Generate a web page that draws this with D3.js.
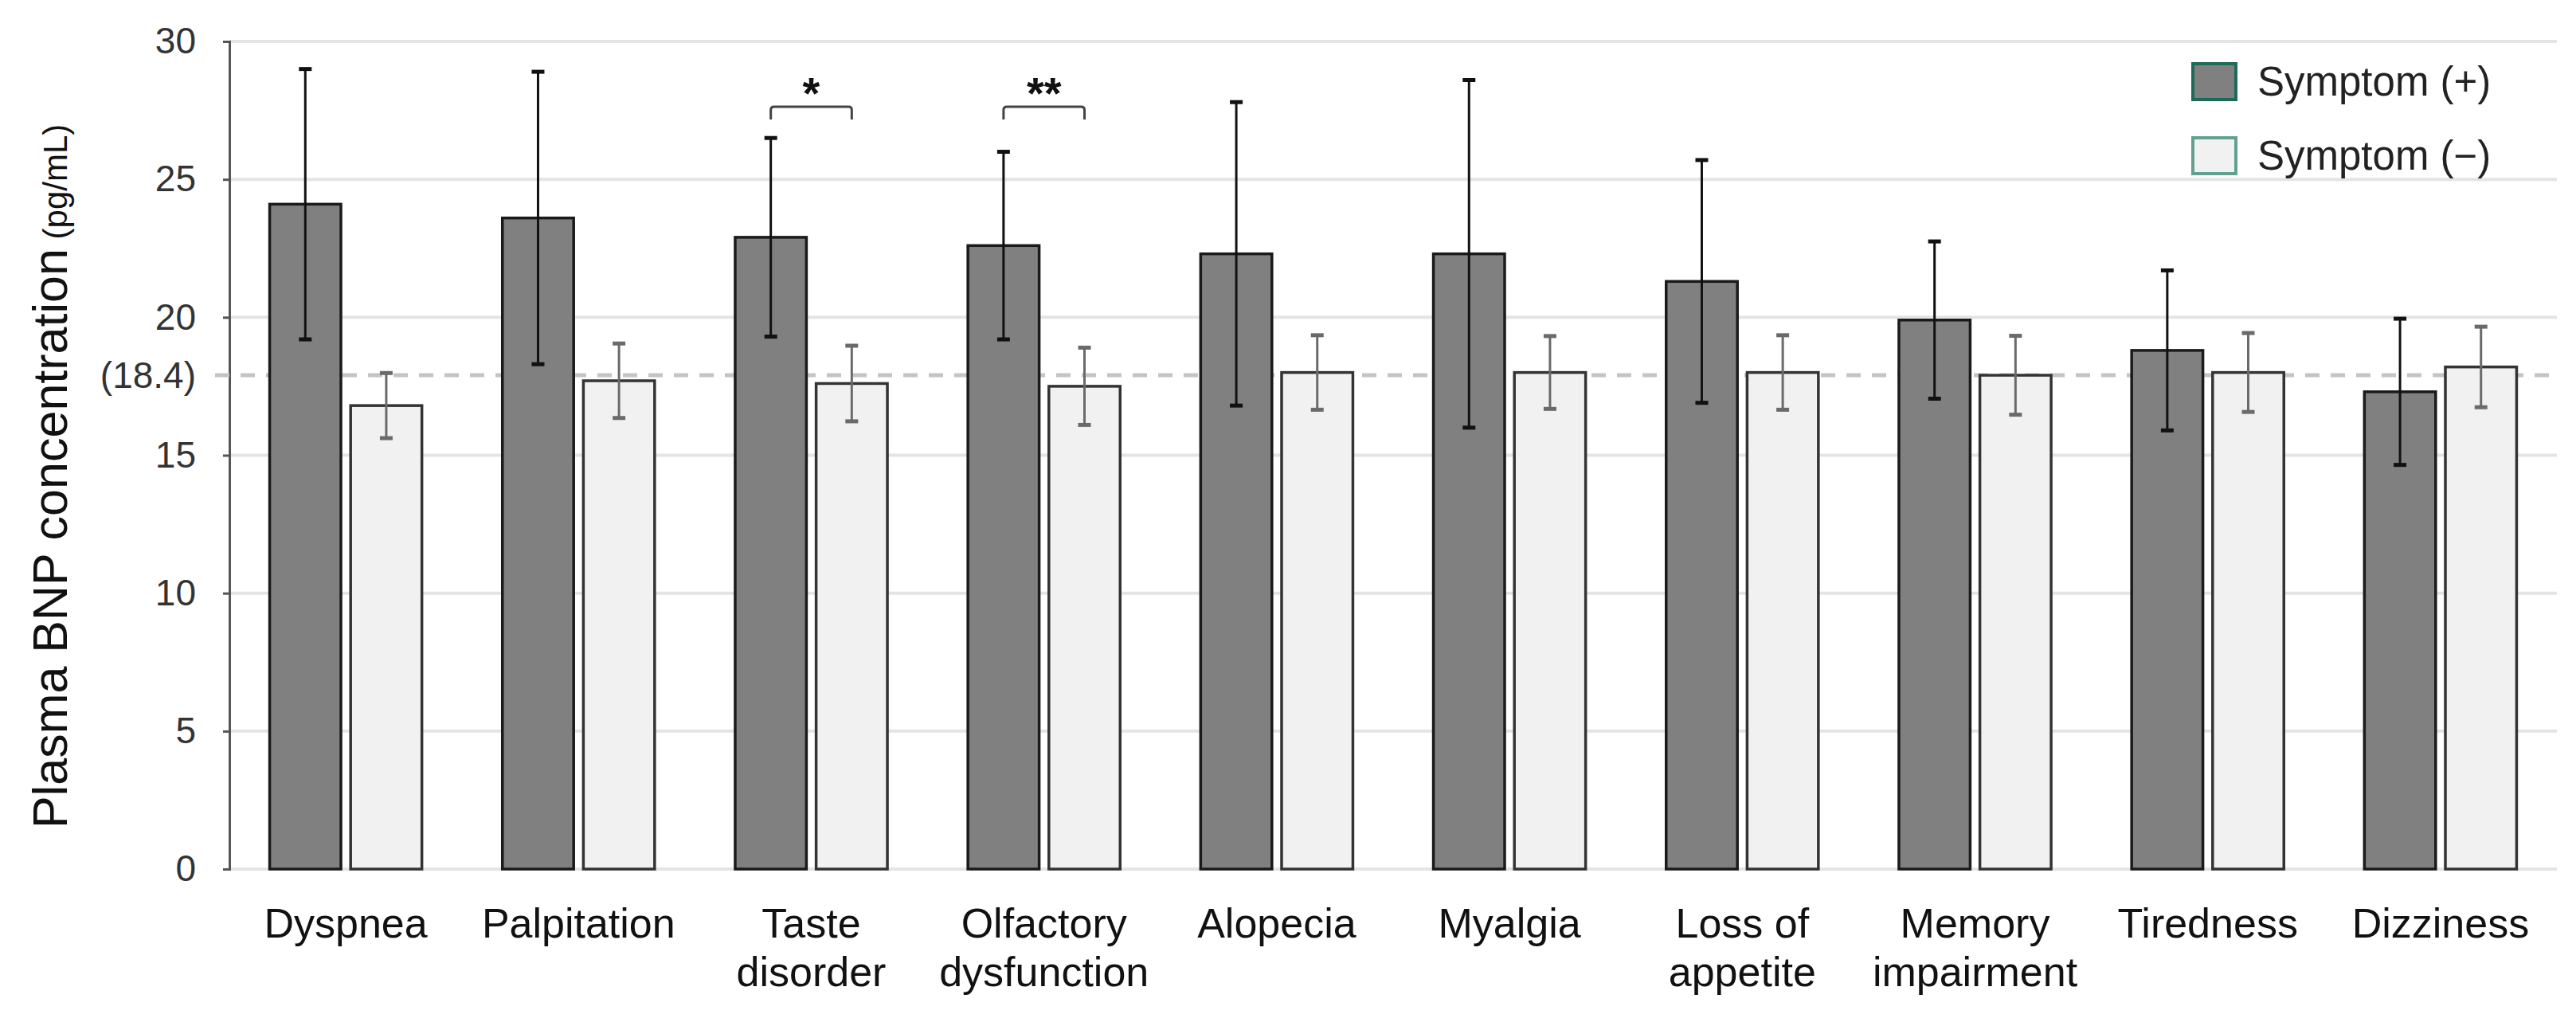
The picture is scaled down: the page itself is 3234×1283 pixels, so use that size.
<!DOCTYPE html>
<html lang="en">

<head>
    <meta charset="UTF-8">
    <title>Plasma BNP concentration</title>
    <script src="https://d3js.org/d3.v7.min.js"></script>
    <style>
        body { margin: 0; background: #fff; }
        text { font-family: "Liberation Sans", Arial, sans-serif; }
    </style>
</head>

<body>
    <script>

        var categories = ["Dyspnea", "Palpitation", "Taste disorder", "Olfactory dysfunction", "Alopecia",
            "Myalgia", "Loss of appetite", "Memory impairment", "Tiredness", "Dizziness"];
        var labelLines = [["Dyspnea"], ["Palpitation"], ["Taste", "disorder"], ["Olfactory", "dysfunction"], ["Alopecia"],
            ["Myalgia"], ["Loss of", "appetite"], ["Memory", "impairment"], ["Tiredness"], ["Dizziness"]];

        // symptom (+)
        var posMean = [24.1, 23.6, 22.9, 22.6, 22.3, 22.3, 21.3, 19.9, 18.8, 17.3];
        var posErr = [4.9, 5.3, 3.6, 3.4, 5.5, 6.3, 4.4, 2.85, 2.9, 2.65];
        // symptom (-)
        var negMean = [16.8, 17.7, 17.6, 17.5, 18.0, 18.0, 18.0, 17.9, 18.0, 18.2];
        var negErr = [1.18, 1.35, 1.37, 1.4, 1.35, 1.32, 1.35, 1.43, 1.43, 1.46];

        var yTicks = [0, 5, 10, 15, 20, 25, 30];
        var refLineValue = 17.9;
        var refLineLabel = "(18.4)";

        var sigIndex = [2, 3];
        var sigLabels = ["*", "**"];

        var seriesNames = ["Symptom (+)", "Symptom (\u2212)"];

        var W = 3234, H = 1283;
        var plotLeft = 288, plotRight = 3210, plotTop = 52, plotBottom = 1091;

        var svg = d3.select("body").append("svg")
            .attr("width", W)
            .attr("height", H);

        var x0 = d3.scaleBand()
            .domain(categories)
            .range([plotLeft, plotRight])
            .paddingInner(0.346)
            .paddingOuter(0.173);

        var x1 = d3.scaleBand()
            .domain(["pos", "neg"])
            .range([0, x0.bandwidth()])
            .paddingInner(0.12);

        var y = d3.scaleLinear()
            .domain([0, 30])
            .range([plotBottom, plotTop]);

        // gridlines
        svg.append("g").selectAll("line")
            .data(yTicks)
            .enter().append("line")
            .attr("x1", plotLeft).attr("x2", plotRight)
            .attr("y1", function (d) { return y(d); })
            .attr("y2", function (d) { return y(d); })
            .attr("stroke", "#e4e4e4")
            .attr("stroke-width", 4);

        // y axis
        var yAxis = d3.axisLeft(y)
            .tickValues(yTicks)
            .tickSize(8)
            .tickPadding(34);
        var ya = svg.append("g")
            .attr("transform", "translate(" + plotLeft + ",0)")
            .call(yAxis);
        ya.select(".domain").attr("stroke", "#555").attr("stroke-width", 3);
        ya.selectAll(".tick line").attr("stroke", "#555").attr("stroke-width", 3);
        ya.selectAll(".tick text")
            .attr("font-size", 46)
            .attr("fill", "#333")
            .style("font-family", "'Liberation Sans', Arial, sans-serif");

        // reference dashed line
        svg.append("line")
            .attr("x1", 270).attr("x2", plotRight)
            .attr("y1", y(refLineValue)).attr("y2", y(refLineValue))
            .attr("stroke", "#c4c4c4")
            .attr("stroke-width", 5)
            .attr("stroke-dasharray", "18,14");

        svg.append("text")
            .attr("x", plotLeft - 42)
            .attr("y", y(refLineValue))
            .attr("dy", "0.35em")
            .attr("text-anchor", "end")
            .attr("font-size", 46)
            .attr("fill", "#333")
            .text(refLineLabel);

        // bars
        var rows = categories.map(function (c, i) {
            return [
                { cat: c, key: "pos", mean: posMean[i], err: posErr[i] },
                { cat: c, key: "neg", mean: negMean[i], err: negErr[i] }
            ];
        });

        var groups = svg.append("g").selectAll("g")
            .data(rows)
            .enter().append("g")
            .attr("transform", function (d) { return "translate(" + x0(d[0].cat) + ",0)"; });

        groups.selectAll("rect")
            .data(function (d) { return d; })
            .enter().append("rect")
            .attr("x", function (d) { return x1(d.key); })
            .attr("y", function (d) { return y(d.mean); })
            .attr("width", x1.bandwidth())
            .attr("height", function (d) { return y(0) - y(d.mean); })
            .attr("fill", function (d) { return d.key == "pos" ? "#808080" : "#f1f1f1"; })
            .attr("stroke", function (d) { return d.key == "pos" ? "#1a1a1a" : "#333"; })
            .attr("stroke-width", 3.5);

        // error bars
        var eb = groups.selectAll(".err")
            .data(function (d) { return d; })
            .enter().append("g")
            .attr("class", "err")
            .attr("stroke", function (d) { return d.key == "pos" ? "#111" : "#6a6a6a"; })
            .attr("stroke-width", 3);

        eb.append("line")
            .attr("x1", function (d) { return x1(d.key) + x1.bandwidth() / 2; })
            .attr("x2", function (d) { return x1(d.key) + x1.bandwidth() / 2; })
            .attr("y1", function (d) { return y(d.mean + d.err); })
            .attr("y2", function (d) { return y(d.mean - d.err); });

        [1, -1].forEach(function (s) {
            eb.append("line")
                .attr("x1", function (d) { return x1(d.key) + x1.bandwidth() / 2 - 8; })
                .attr("x2", function (d) { return x1(d.key) + x1.bandwidth() / 2 + 8; })
                .attr("y1", function (d) { return y(d.mean + s * d.err); })
                .attr("y2", function (d) { return y(d.mean + s * d.err); })
                .attr("stroke-width", 5);
        });

        // significance brackets
        sigIndex.forEach(function (idx, k) {
            var c = categories[idx];
            var xa = x0(c) + x1("pos") + x1.bandwidth() / 2;
            var xb = x0(c) + x1("neg") + x1.bandwidth() / 2;
            var yb = 134;
            svg.append("path")
                .attr("d", "M" + xa + "," + (yb + 16) + " L" + xa + "," + (yb + 4) + " Q" + xa + "," + yb + " " + (xa + 4) + "," + yb +
                    " L" + (xb - 4) + "," + yb + " Q" + xb + "," + yb + " " + xb + "," + (yb + 4) + " L" + xb + "," + (yb + 16))
                .attr("fill", "none")
                .attr("stroke", "#444")
                .attr("stroke-width", 3);
            svg.append("text")
                .attr("x", (xa + xb) / 2)
                .attr("y", 136)
                .attr("text-anchor", "middle")
                .attr("font-size", 56)
                .attr("font-weight", "bold")
                .attr("fill", "#111")
                .text(sigLabels[k]);
        });

        // x labels
        var xl = svg.append("g").selectAll("text")
            .data(categories)
            .enter().append("text")
            .attr("x", function (d) { return x0(d) + x0.bandwidth() / 2; })
            .attr("y", 1177)
            .attr("text-anchor", "middle")
            .attr("font-size", 52)
            .attr("fill", "#111");

        xl.selectAll("tspan")
            .data(function (d, i) { return labelLines[i]; })
            .enter().append("tspan")
            .attr("x", function () { return d3.select(this.parentNode).attr("x"); })
            .attr("dy", function (d, i) { return i == 0 ? 0 : 61; })
            .text(function (d) { return d; });

        // y title
        var yt = svg.append("text")
            .attr("transform", "translate(84,1040) rotate(-90)")
            .attr("font-size", 61)
            .attr("fill", "#111");
        yt.append("tspan").text("Plasma BNP concentration");
        yt.append("tspan").attr("font-size", 42).text(" (pg/mL)");

        // legend
        var legend = svg.append("g").selectAll("g")
            .data(seriesNames)
            .enter().append("g")
            .attr("transform", function (d, i) { return "translate(2753," + (80 + i * 93) + ")"; });

        legend.append("rect")
            .attr("width", 54)
            .attr("height", 45)
            .attr("fill", function (d, i) { return i == 0 ? "#808080" : "#f1f1f1"; })
            .attr("stroke", function (d, i) { return i == 0 ? "#1d6a58" : "#62a08f"; })
            .attr("stroke-width", 4);

        legend.append("text")
            .attr("x", 81)
            .attr("y", 22)
            .attr("dy", "0.35em")
            .attr("font-size", 51)
            .attr("fill", "#222")
            .text(function (d) { return d; });

    </script>

</body>

</html>
